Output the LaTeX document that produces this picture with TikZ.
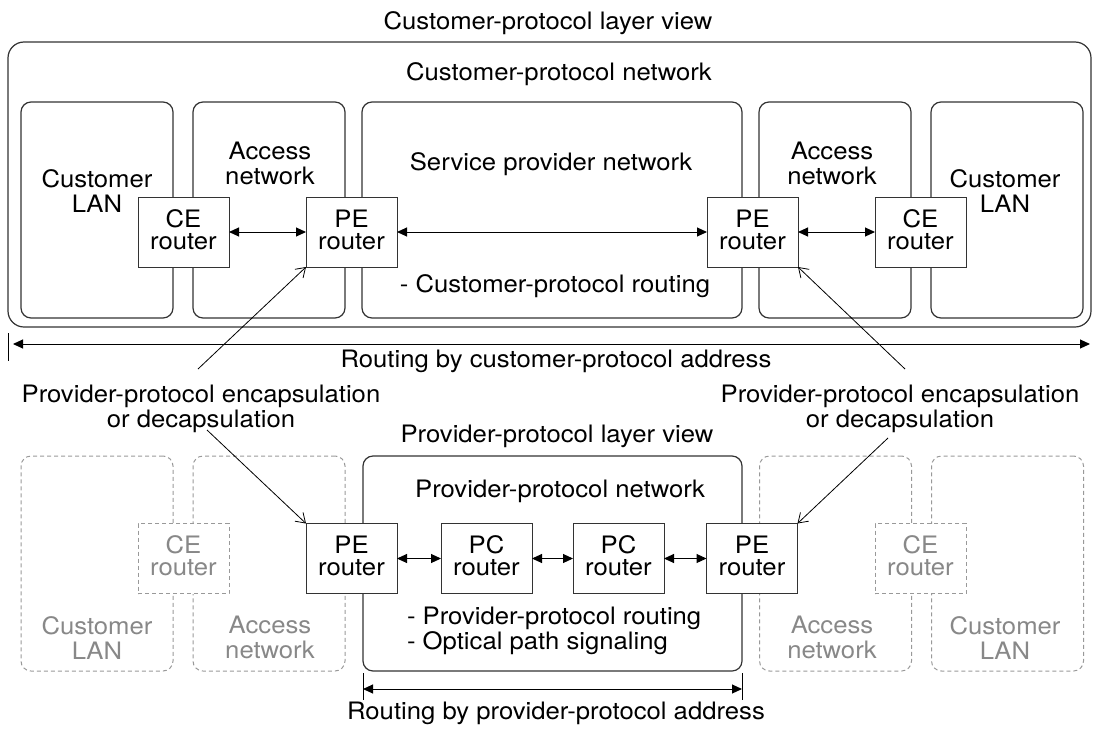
\documentclass[tikz,border=0pt]{standalone}
\usepackage{fontspec}
\setmainfont{TeX Gyre Heros}[FakeStretch=1.07]
\usetikzlibrary{arrows.meta,calc}

\definecolor{edge}{HTML}{333333}
\definecolor{ghostline}{HTML}{999999}
\definecolor{ghosttext}{HTML}{888888}

% extra depth under the second line of a router label
\newcommand\rdepth{\rule[-5.5pt]{0pt}{5.5pt}}

\begin{document}
\begin{tikzpicture}[x=1pt,y=-1pt,
  every node/.style={font=\fontsize{24}{25}\selectfont, inner sep=0pt, outer sep=0pt},
  txt/.style={align=center},
  outerbox/.style={draw=edge, line width=1.2pt, rounded corners=16pt},
  area/.style={draw=edge, line width=1.2pt, rounded corners=10pt, minimum width=152pt, minimum height=216pt},
  ghost/.style={draw=ghostline, line width=1pt, dash pattern=on 4pt off 3pt, rounded corners=10pt, minimum width=152pt, minimum height=215pt},
  router/.style={draw=edge, line width=1pt, fill=white, minimum width=91pt, minimum height=70pt,
                 align=center, font=\fontsize{24}{22}\selectfont},
  ghostrouter/.style={router, draw=ghostline, dash pattern=on 4pt off 3pt, text=ghosttext},
  link/.style={draw=black, line width=1pt, {Triangle[length=10pt,width=9pt]}-{Triangle[length=10pt,width=9pt]}},
  pointer/.style={draw=black, line width=0.8pt, -{Straight Barb[length=9pt,width=12pt]}},
]
\useasboundingbox (0,0) rectangle (1094,731);

% ---------------- customer-protocol layer ----------------
\node[anchor=base] (toptitle) at (548,29) {Customer-protocol layer view};
\node[outerbox, minimum width=1083pt, minimum height=285pt] (cpn) at (549.5,184.5) {};
\node[anchor=base] (cpnlab) at (559,80) {Customer-protocol network};

\node[area] (lan1) at (97,210) {};
\node[area] (acc1) at (269,210) {};
\node[area, minimum width=380pt] (spn) at (552,210) {};
\node[area] (acc2) at (835,210) {};
\node[area] (lan2) at (1007,210) {};

\node[txt] (lan1lab) at (97,190.75) {Customer\\LAN};
\node[txt] (acc1lab) at (270,163.75) {Access\\network};
\node[anchor=base] (spnlab) at (551,170) {Service provider network};
\node[anchor=base] (spnnote) at (555,292) {- Customer-protocol routing};
\node[txt] (acc2lab) at (832,163.75) {Access\\network};
\node[txt] (lan2lab) at (1005,190.75) {Customer\\LAN};

\node[router] (ce1) at (183.5,232) {CE\\router\rdepth};
\node[router] (pe1) at (351.5,232) {PE\\router\rdepth};
\node[router] (pe2) at (752.5,232) {PE\\router\rdepth};
\node[router] (ce2) at (920.5,232) {CE\\router\rdepth};

\draw[link] (ce1.east) -- (pe1.west);
\draw[link] (pe1.east) -- (pe2.west);
\draw[link] (pe2.east) -- (ce2.west);

% routing span of the customer-protocol address
\coordinate (cspanL) at (13,344);
\coordinate (cspanR) at (1090,344);
\draw[line width=1pt] (8,333) -- (8,361);
\draw[link] (cspanL) -- (cspanR);
\node[anchor=base] (cspanlab) at (556,367) {Routing by customer-protocol address};

% ---------------- encapsulation notes ----------------
\node[txt] (enc1) at (201,409.25) {Provider-protocol encapsulation\\or decapsulation};
\node[txt] (enc2) at (900,409.25) {Provider-protocol encapsulation\\or decapsulation};
\coordinate (enc1up) at (198,369);
\coordinate (enc1dn) at (207,430);
\coordinate (enc2up) at (905,369);
\coordinate (enc2dn) at (888,438);

% ---------------- provider-protocol layer ----------------
\node[anchor=base] (bottitle) at (557,442) {Provider-protocol layer view};

\node[ghost] (lan3) at (97,563.5) {};
\node[ghost] (acc3) at (269,563.5) {};
\node[area, minimum width=379pt, minimum height=215pt] (ppn) at (552.5,563.5) {};
\node[ghost] (acc4) at (835.5,563.5) {};
\node[ghost] (lan4) at (1007.5,563.5) {};

\node[txt, text=ghosttext] (lan3lab) at (97,637.75) {Customer\\LAN};
\node[txt, text=ghosttext] (acc3lab) at (270,637.75) {Access\\network};
\node[txt, text=ghosttext] (acc4lab) at (832,637.75) {Access\\network};
\node[txt, text=ghosttext] (lan4lab) at (1005,637.75) {Customer\\LAN};

\node[anchor=base] (ppnlab) at (560,497) {Provider-protocol network};
\node[align=left, anchor=west] (ppnnote) at (407,631.25) {- Provider-protocol routing\\- Optical path signaling};

\node[ghostrouter] (ce3) at (183.5,558.5) {CE\\router\rdepth};
\node[router] (pe3) at (351.5,558.5) {PE\\router\rdepth};
\node[router] (pc1) at (486.5,558.5) {PC\\router\rdepth};
\node[router] (pc2) at (618.5,558.5) {PC\\router\rdepth};
\node[router] (pe4) at (752,558.5) {PE\\router\rdepth};
\node[ghostrouter] (ce4) at (920.5,558.5) {CE\\router\rdepth};

\draw[link] (pe3.east) -- (pc1.west);
\draw[link] (pc1.east) -- (pc2.west);
\draw[link] (pc2.east) -- (pe4.west);

% routing span of the provider-protocol address
\coordinate (pspanL) at (363,689);
\coordinate (pspanR) at (742,689);
\draw[line width=1pt] (363,673) -- (363,700);
\draw[line width=1pt] (742,673) -- (742,700);
\draw[link] (pspanL) -- (pspanR);
\node[anchor=base] (pspanlab) at (556,719) {Routing by provider-protocol address};

% pointers from the notes to the edge routers
\draw[pointer] (enc1up) -- (pe1.south west);
\draw[pointer] (enc1dn) -- (pe3.north west);
\draw[pointer] (enc2up) -- (pe2.south east);
\draw[pointer] (enc2dn) -- (pe4.north east);
\end{tikzpicture}
\end{document}
